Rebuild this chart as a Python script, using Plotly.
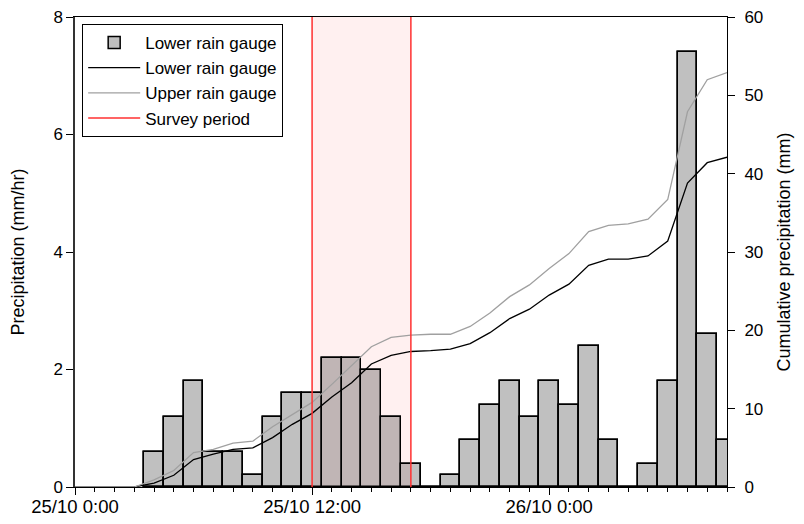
import plotly.graph_objects as go

# Hourly rainfall intensity at the lower gauge (hours after 25/10 0:00)
bar_hours = list(range(4, 34))
bar_rate = [0.6, 1.2, 1.8, 0.6, 0.6, 0.2, 1.2, 1.6, 1.6, 2.2,
            2.2, 2.0, 1.2, 0.4, 0.0, 0.2, 0.8, 1.4, 1.8, 1.2,
            1.8, 1.4, 2.4, 0.8, 0.0, 0.4, 1.8, 7.4, 2.6, 0.8]

# Cumulative precipitation (mm)
cum_hours = list(range(0, 34))
cum_lower = [0, 0, 0, 0, 0.5, 1.5, 3.5, 4.2, 4.8, 5.0,
             6.3, 8.0, 9.4, 11.5, 13.3, 15.7, 16.8, 17.3, 17.4, 17.6,
             18.3, 19.7, 21.5, 22.7, 24.5, 25.9, 28.3, 29.1, 29.1, 29.5,
             31.4, 38.8, 41.4, 42.1]
cum_upper = [0, 0, 0, 0, 0.9, 2.1, 4.4, 4.8, 5.6, 5.85,
             7.7, 9.2, 10.8, 13.1, 15.5, 17.9, 19.1, 19.4, 19.5, 19.5,
             20.5, 22.2, 24.3, 25.8, 27.9, 29.8, 32.6, 33.4, 33.6, 34.2,
             36.7, 47.9, 52.0, 52.9]

# Survey period (hours)
survey_start = 12
survey_end = 17

tick_vals = [0, 12, 24]
tick_text = ["25/10 0:00", "25/10 12:00", "26/10 0:00"]

# overlay parts of bars inside survey window (tinted)
ov_x, ov_w, ov_y = [], [], []
for h, v in zip(bar_hours, bar_rate):
    lo = max(h - 0.5, survey_start)
    hi = min(h + 0.5, survey_end)
    if hi > lo and v > 0:
        ov_x.append((lo + hi) / 2)
        ov_w.append(hi - lo)
        ov_y.append(v)

FONT = "Liberation Sans, Arial, sans-serif"

fig = go.Figure()
fig.add_trace(go.Bar(x=bar_hours, y=bar_rate, width=[1] * len(bar_hours),
                     marker=dict(color="#c0c0c0", line=dict(color="black", width=1.5)),
                     name="Lower rain gauge", yaxis="y"))
fig.add_trace(go.Bar(x=ov_x, y=ov_y, width=ov_w,
                     marker=dict(color="#c0b5b5", line=dict(width=0)),
                     showlegend=False, hoverinfo="skip", yaxis="y"))
fig.add_trace(go.Bar(x=bar_hours, y=bar_rate, width=[1] * len(bar_hours),
                     marker=dict(color="rgba(0,0,0,0)", line=dict(color="black", width=1.5)),
                     showlegend=False, hoverinfo="skip", yaxis="y"))
fig.add_trace(go.Scatter(x=cum_hours, y=cum_lower, mode="lines",
                         line=dict(color="black", width=1.3),
                         name="Lower rain gauge", yaxis="y2"))
fig.add_trace(go.Scatter(x=cum_hours, y=cum_upper, mode="lines",
                         line=dict(color="#a0a0a0", width=1.3),
                         name="Upper rain gauge", yaxis="y2"))
fig.add_trace(go.Scatter(x=[None], y=[None], mode="lines",
                         line=dict(color="#ff3030", width=1.5),
                         name="Survey period", yaxis="y2"))

fig.add_shape(type="rect", xref="x", yref="paper", x0=survey_start, x1=survey_end,
              y0=0, y1=1, fillcolor="#fff0f0", line=dict(width=0), layer="below")
for xv in (survey_start, survey_end):
    fig.add_shape(type="line", xref="x", yref="paper", x0=xv, x1=xv, y0=0, y1=1,
                  line=dict(color="#ff3030", width=1.5), layer="above")

# page body has an 8px default margin, so the figure is sized to fit inside
fig.update_layout(
    width=796, height=516,
    margin=dict(l=67, r=77, t=9, b=37, autoexpand=False),
    paper_bgcolor="white", plot_bgcolor="white",
    barmode="overlay", bargap=0,
    font=dict(family=FONT, size=17, color="black"),
    showlegend=True,
    legend=dict(x=0.011, y=0.985, xanchor="left", yanchor="top",
                bgcolor="white", bordercolor="black", borderwidth=1,
                font=dict(size=17), tracegroupgap=0, itemwidth=52),
    xaxis=dict(range=[0, 33], tickmode="array", tickvals=tick_vals, ticktext=tick_text,
               ticks="outside", ticklen=7, tickwidth=1, tickcolor="black",
               tickfont=dict(size=18.5), automargin=False, ticklabelstandoff=-4,
               ticklabeloverflow="allow",
               showline=True, linecolor="black", linewidth=1, mirror=True,
               showgrid=False, zeroline=False,
               minor=dict(ticks="outside", ticklen=4, dtick=1, tick0=0, tickcolor="black", showgrid=False)),
    yaxis=dict(range=[0, 8], dtick=2, ticks="outside", ticklen=7, tickcolor="black",
               showline=True, linecolor="#333333", linewidth=1.5, automargin=False,
               ticklabeloverflow="allow",
               showgrid=False, zeroline=False,
               title=dict(text="Precipitation (mm/hr)", font=dict(size=18), standoff=30)),
    yaxis2=dict(range=[0, 60], dtick=10, overlaying="y", side="right",
                ticks="outside", ticklen=7, tickcolor="black", automargin=False,
                ticklabelstandoff=6, ticklabeloverflow="allow",
                showline=True, linecolor="black", linewidth=1,
                showgrid=False, zeroline=False,
                title=dict(text="Cumulative precipitation (mm)", font=dict(size=18), standoff=15)),
)

fig.write_html("out.html")
